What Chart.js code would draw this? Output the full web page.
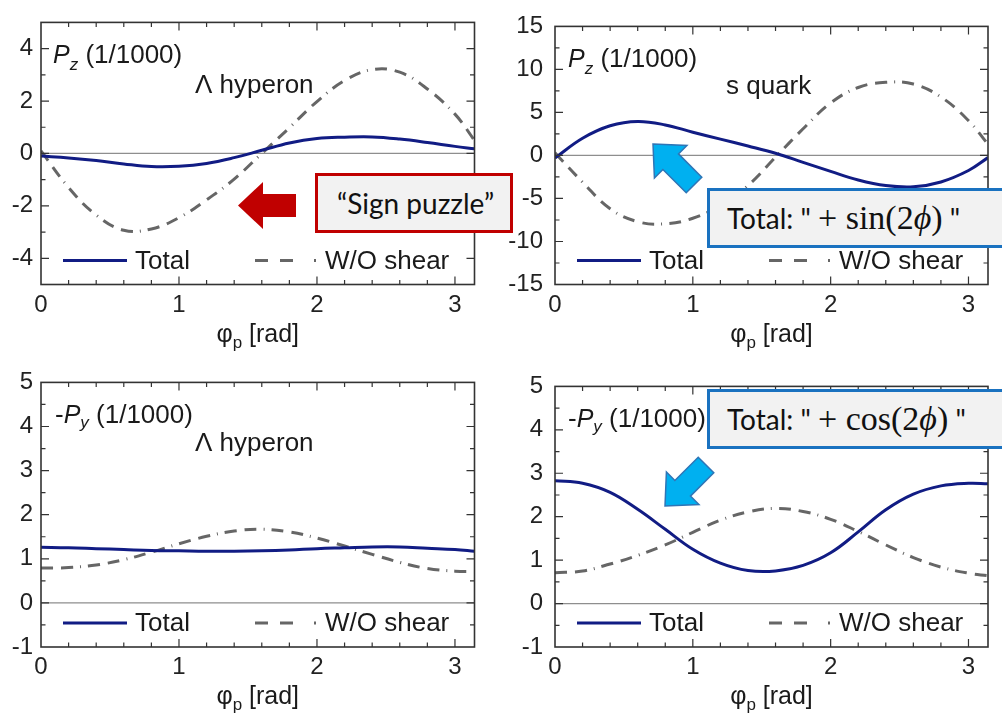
<!DOCTYPE html>
<html lang="en">
<head>
<meta charset="UTF-8">
<title>Polarization vs azimuthal angle</title>
<script src="https://cdn.jsdelivr.net/npm/chart.js"></script>
<style>
  html, body { margin: 0; padding: 0; background: #fff; }
  body { width: 1002px; height: 719px; position: relative; overflow: hidden; }
  canvas { position: absolute; }
  .note {
    position: absolute; box-sizing: border-box; height: 60px;
    background: #f2f2f2; display: flex; align-items: center;
    font-family: "Lato", "Open Sans", sans-serif; font-size: 28px; color: #111;
    white-space: nowrap;
  }
  .note.red { border: 3px solid #c00000; }
  .note.blue { border: 3px solid #1a72c0; }
  .math { font-family: "Liberation Serif", "DejaVu Serif", serif; font-size: 34px; }
  .math i { font-style: italic; }
  svg.arrows { position: absolute; left: 0; top: 0; }
</style>
</head>
<body>

<canvas id="pzLambda" width="500" height="360" style="left:0;top:0"></canvas>
<canvas id="pzQuark" width="502" height="360" style="left:500px;top:0"></canvas>
<canvas id="pyLambda" width="500" height="359" style="left:0;top:360px"></canvas>
<canvas id="pyQuark" width="502" height="359" style="left:500px;top:360px"></canvas>

<!-- call-outs drawn over the panels -->
<svg class="arrows" width="1002" height="719">
  <polygon points="238,205.5 263,182 263,194 296,194 296,217 263,217 263,229" fill="#c00000"/>
  <g transform="translate(653,144) rotate(45)">
    <polygon points="0,0 25,-23 25,-11 58,-11 58,11 25,11 25,23" fill="#00b0f0" stroke="#2e75b6" stroke-width="1.5"/>
  </g>
  <g transform="translate(665,506) rotate(-45)">
    <polygon points="0,0 25,-23 25,-11 58,-11 58,11 25,11 25,23" fill="#00b0f0" stroke="#2e75b6" stroke-width="1.5"/>
  </g>
</svg>
<div class="note red" style="left:315px;top:173px;width:198px;padding-left:19px">“Sign puzzle”</div>
<div class="note blue" style="left:707px;top:188px;width:330px;padding-left:17px">Total: "&nbsp;<span class="math">+ sin(2<i>ϕ</i>)</span>&nbsp;"</div>
<div class="note blue" style="left:707px;top:389px;width:330px;padding-left:17px">Total: "&nbsp;<span class="math">+ cos(2<i>ϕ</i>)</span>&nbsp;"</div>

<script>
// azimuthal angle grid (rad)
const phi = [0, 0.2, 0.4, 0.6, 0.8, 1.0, 1.2, 1.4, 1.6, 1.8, 2.0, 2.2, 2.4, 2.6, 2.8, 3.0, 3.1416];

// P_z, Lambda hyperon
const pzLambdaTotal   = [-0.10, -0.17, -0.27, -0.40, -0.50, -0.49, -0.38, -0.16, 0.12, 0.40, 0.57, 0.62, 0.63, 0.55, 0.42, 0.27, 0.18];
const pzLambdaNoShear = [0.10, -1.30, -2.35, -2.93, -2.88, -2.45, -1.77, -0.98, 0.00, 0.98, 1.98, 2.78, 3.20, 3.10, 2.46, 1.50, 0.50];
// P_z, s quark
const pzQuarkTotal    = [-0.30, 2.00, 3.45, 3.95, 3.55, 2.70, 1.90, 1.10, 0.25, -0.80, -1.85, -2.85, -3.50, -3.65, -3.08, -1.75, -0.25];
const pzQuarkNoShear  = [0.30, -3.10, -6.20, -7.70, -7.95, -7.30, -5.80, -3.50, -0.20, 3.10, 6.10, 7.90, 8.50, 8.30, 6.80, 4.05, 1.30];
// -P_y, Lambda hyperon
const pyLambdaTotal   = [1.26, 1.25, 1.23, 1.21, 1.19, 1.18, 1.17, 1.17, 1.18, 1.20, 1.23, 1.25, 1.27, 1.27, 1.24, 1.21, 1.17];
const pyLambdaNoShear = [0.79, 0.80, 0.86, 0.98, 1.15, 1.34, 1.51, 1.63, 1.67, 1.61, 1.47, 1.29, 1.10, 0.92, 0.78, 0.72, 0.71];
// -P_y, s quark
const pyQuarkTotal    = [2.83, 2.77, 2.56, 2.17, 1.71, 1.25, 0.93, 0.76, 0.75, 0.88, 1.17, 1.65, 2.16, 2.52, 2.71, 2.77, 2.76];
const pyQuarkNoShear  = [0.71, 0.75, 0.91, 1.11, 1.35, 1.64, 1.92, 2.11, 2.19, 2.12, 1.94, 1.66, 1.35, 1.06, 0.84, 0.70, 0.64];

// tick labels
const xTicks = [0, 1, 2, 3];
const yTicksPzLambda = [-4, -2, 0, 2, 4];
const yTicksPzQuark = [-15, -10, -5, 0, 5, 10, 15];
const yTicksPy = [-1, 0, 1, 2, 3, 4, 5];

const BLUE = '#111c84';
const GRAY = '#666';
const FONT = '"Liberation Sans", Arial, sans-serif';
const CURVE_DASH = [12, 8, 12, 7, 1, 7];
const LEGEND_DASH = [13, 12, 13, 21, 2, 40];

function toPoints(ys) {
  return phi.map((x, i) => ({ x: x, y: ys[i] }));
}

// draws a row of differently styled text pieces, returns end x
function drawRuns(ctx, x, y, runs, measureOnly) {
  runs.forEach(r => {
    ctx.font = r.font;
    if (!measureOnly) ctx.fillText(r.text, x, y + (r.dy || 0));
    x += ctx.measureText(r.text).width;
  });
  return x;
}

// frame, inward ticks, zero line, legend and labels
const framePlugin = {
  id: 'frame',
  beforeDatasetsDraw(chart) {
    const { ctx, chartArea: a, scales: { y } } = chart;
    const y0 = y.getPixelForValue(0);
    ctx.save();
    ctx.strokeStyle = '#8e8e8e';
    ctx.lineWidth = 1.3;
    ctx.beginPath();
    ctx.moveTo(a.left, y0);
    ctx.lineTo(a.right, y0);
    ctx.stroke();
    ctx.restore();
  },
  afterDatasetsDraw(chart, args, opts) {
    const { ctx, chartArea: a, scales: { x, y } } = chart;
    ctx.save();
    ctx.strokeStyle = '#333';
    ctx.lineWidth = 1.2;
    // x ticks top and bottom
    for (let v = 0.2, k = 1; v < Math.PI; k++, v = k * 0.2) {
      const px = x.getPixelForValue(v);
      const len = (k % 5 === 0) ? 8 : 4.5;
      ctx.beginPath();
      ctx.moveTo(px, a.bottom); ctx.lineTo(px, a.bottom - len);
      ctx.moveTo(px, a.top); ctx.lineTo(px, a.top + len);
      ctx.stroke();
    }
    // y ticks left and right
    const yMin = y.min, yMax = y.max, st = opts.minorStep;
    for (let k = Math.ceil(yMin / st); k * st <= yMax; k++) {
      const v = k * st;
      if (v <= yMin || v >= yMax) continue;
      const py = y.getPixelForValue(v);
      const len = (Math.abs(v / opts.majorStep - Math.round(v / opts.majorStep)) < 1e-6) ? 8 : 4.5;
      ctx.beginPath();
      ctx.moveTo(a.left, py); ctx.lineTo(a.left + len, py);
      ctx.moveTo(a.right, py); ctx.lineTo(a.right - len, py);
      ctx.stroke();
    }
    // frame
    ctx.lineWidth = 1.6;
    ctx.strokeRect(a.left, a.top, a.right - a.left, a.bottom - a.top);

    // legend inside the plot
    const ly = a.bottom - 24;
    ctx.fillStyle = '#1a1a1a';
    ctx.textBaseline = 'middle';
    ctx.font = '26px ' + FONT;
    const entries = [[22, 86, 94], [214, 276, 284]];
    chart.data.datasets.forEach((ds, i) => {
      const [x1, x2, tx] = entries[i];
      ctx.strokeStyle = ds.borderColor;
      ctx.lineWidth = 3;
      ctx.setLineDash(ds.borderDash ? LEGEND_DASH : []);
      ctx.beginPath();
      ctx.moveTo(a.left + x1, ly);
      ctx.lineTo(a.left + x2, ly);
      ctx.stroke();
      ctx.fillText(ds.label, a.left + tx, ly + 1);
    });
    ctx.setLineDash([]);

    // quantity and species labels
    ctx.textBaseline = 'alphabetic';
    drawRuns(ctx, a.left + opts.labelX, a.top + opts.labelY, opts.labelRuns);
    ctx.font = '26px ' + FONT;
    ctx.fillText(opts.species, a.left + opts.speciesX, a.top + opts.speciesY);

    // x axis title
    const titleRuns = [
      { text: 'φ', font: '25px ' + FONT },
      { text: 'p', font: '17px ' + FONT, dy: 6 },
      { text: ' [rad]', font: '25px ' + FONT }
    ];
    const w = drawRuns(ctx, 0, 0, titleRuns, true);
    drawRuns(ctx, (a.left + a.right) / 2 - w / 2, a.bottom + 57, titleRuns);
    ctx.restore();
  }
};

function pzRuns() {
  return [
    { text: 'P', font: 'italic 25px ' + FONT },
    { text: 'z', font: 'italic 17px ' + FONT, dy: 7 },
    { text: ' (1/1000)', font: '26px ' + FONT }
  ];
}
function pyRuns() {
  return [
    { text: '-', font: '26px ' + FONT },
    { text: 'P', font: 'italic 25px ' + FONT },
    { text: 'y', font: 'italic 17px ' + FONT, dy: 5 },
    { text: ' (1/1000)', font: '26px ' + FONT }
  ];
}

function makePanel(id, p) {
  const tickFont = { family: FONT, size: 24 };
  return new Chart(document.getElementById(id), {
    type: 'line',
    data: {
      datasets: [
        { label: 'Total', data: toPoints(p.total), borderColor: BLUE, borderWidth: 3,
          pointRadius: 0, tension: 0.4, fill: false },
        { label: 'W/O shear', data: toPoints(p.noShear), borderColor: GRAY, borderWidth: 3,
          borderDash: CURVE_DASH, pointRadius: 0, tension: 0.4, fill: false }
      ]
    },
    options: {
      responsive: false,
      animation: false,
      events: [],
      layout: { padding: { top: p.padTop, right: p.padRight, left: 0, bottom: 0 } },
      plugins: {
        legend: { display: false },
        tooltip: { enabled: false },
        frame: {
          minorStep: p.minorStep, majorStep: p.majorStep,
          labelRuns: p.labelRuns, labelX: p.labelX, labelY: 41,
          species: p.species, speciesX: p.speciesX, speciesY: p.speciesY
        }
      },
      scales: {
        x: {
          type: 'linear', min: 0, max: Math.PI,
          grid: { display: false, drawTicks: false },
          border: { display: false },
          ticks: { font: tickFont, color: '#222', padding: 6, maxRotation: 0 },
          afterBuildTicks: s => { s.ticks = xTicks.map(v => ({ value: v })); },
          afterFit: s => { s.height = p.xHeight; }
        },
        y: {
          type: 'linear', min: p.yMin, max: p.yMax,
          grid: { display: false, drawTicks: false },
          border: { display: false },
          ticks: { font: tickFont, color: '#222', padding: p.yPad },
          afterBuildTicks: s => { s.ticks = p.yTicks.map(v => ({ value: v })); },
          afterFit: s => { s.width = p.yWidth; }
        }
      }
    },
    plugins: [framePlugin]
  });
}

makePanel('pzLambda', {
  total: pzLambdaTotal, noShear: pzLambdaNoShear,
  yMin: -5, yMax: 5, yTicks: yTicksPzLambda, majorStep: 2, minorStep: 1,
  yWidth: 41, yPad: 8, padTop: 17.5, padRight: 25.5, xHeight: 75.5,
  labelRuns: pzRuns(), labelX: 12, species: 'Λ hyperon', speciesX: 154, speciesY: 71
});
makePanel('pzQuark', {
  total: pzQuarkTotal, noShear: pzQuarkNoShear,
  yMin: -15, yMax: 15, yTicks: yTicksPzQuark, majorStep: 5, minorStep: 2.5,
  yWidth: 55, yPad: 12, padTop: 17.5, padRight: 14, xHeight: 75.5,
  labelRuns: pzRuns(), labelX: 13, species: 's quark', speciesX: 171, speciesY: 68
});
makePanel('pyLambda', {
  total: pyLambdaTotal, noShear: pyLambdaNoShear,
  yMin: -1, yMax: 5, yTicks: yTicksPy, majorStep: 1, minorStep: 0.5,
  yWidth: 41, yPad: 8, padTop: 20.5, padRight: 25.5, xHeight: 72,
  labelRuns: pyRuns(), labelX: 14, species: 'Λ hyperon', speciesX: 154, speciesY: 69
});
makePanel('pyQuark', {
  total: pyQuarkTotal, noShear: pyQuarkNoShear,
  yMin: -1, yMax: 5, yTicks: yTicksPy, majorStep: 1, minorStep: 0.5,
  yWidth: 55, yPad: 12, padTop: 20.5, padRight: 14, xHeight: 72,
  labelRuns: pyRuns(), labelX: 13, species: '', speciesX: 0, speciesY: 0
});
</script>
</body>
</html>
